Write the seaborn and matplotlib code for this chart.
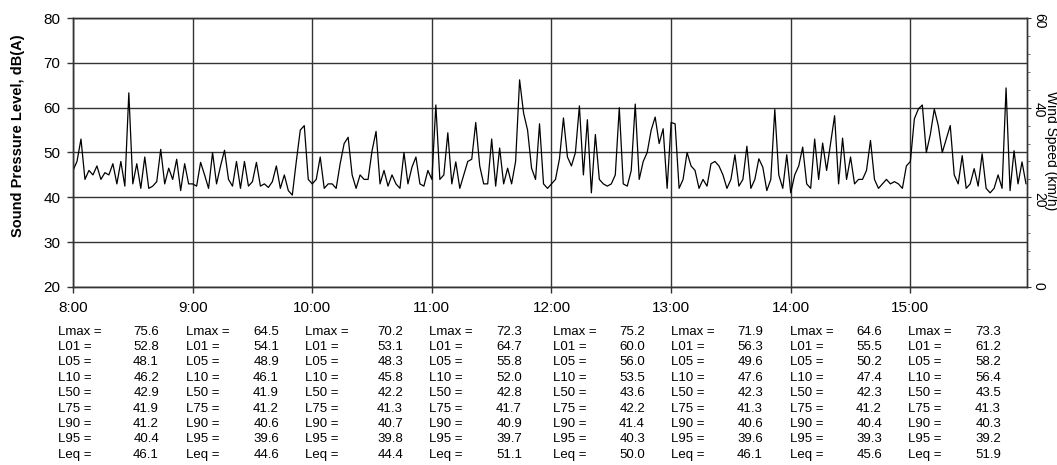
import numpy as np
import pandas as pd
import matplotlib
matplotlib.use('Agg')
import matplotlib.pyplot as plt
from matplotlib.ticker import MultipleLocator
import seaborn as sns

# --- sound level trace, one value every 2 minutes ---
spl_0800 = [46, 48, 53, 44, 46, 45, 47, 44, 45.5, 45, 47.5, 43, 48, 42.5, 63.3,
            43, 47.5, 42, 49, 42, 42.5, 43.5, 50.7, 43, 46.5, 44, 48.5, 41.5, 47.5, 43]
spl_0900 = [43, 42.5, 47.8, 45, 42, 50, 43, 47, 50.5, 44, 42.5, 48, 42, 48, 42.5,
            43.5, 47.8, 42.5, 43, 42.2, 43.5, 47, 42, 45, 41.5, 40.5, 48, 55, 56, 44]
spl_1000 = [43, 44, 49, 42, 43, 43, 42, 47.5, 52, 53.4, 45, 42, 45, 44, 44,
            50.4, 54.7, 43, 46, 42.5, 45, 43, 42, 50, 43, 46.7, 49, 43, 42.5, 46]
spl_1100 = [44, 60.6, 44, 45, 54.4, 43, 47.9, 42, 45, 48, 48.5, 56.7, 47, 43, 43,
            53, 42.5, 51, 43, 46.5, 43, 48, 66.2, 58.8, 55, 46.5, 44, 56.4, 43, 42]
spl_1200 = [43, 44, 48.6, 57.7, 49, 47, 50, 60.4, 45, 57.3, 41, 54, 44, 43, 42.5,
            43, 45, 60, 43, 42.5, 46, 60.8, 44, 48, 50, 55, 57.9, 52, 55.3, 42]
spl_1300 = [56.7, 56.4, 42, 44, 50, 47, 46, 42, 44, 42.5, 47.5, 48, 47, 45, 42,
            44, 49.5, 42.5, 44, 51.4, 42, 44, 48.6, 46.7, 41.5, 44, 59.6, 45, 42, 49.5]
spl_1400 = [41, 45, 47, 51.2, 43, 42, 53, 44, 52.1, 46, 52.1, 58.2, 43, 53.2, 44,
            49, 43, 44, 44, 46, 52.7, 44, 42, 43, 44, 43, 43.5, 43, 42, 47]
spl_1500 = [48, 57.5, 59.7, 60.6, 50, 54, 59.7, 56, 50, 53, 56, 45, 43, 49.3, 42,
            43, 46.4, 42.5, 49.7, 42, 41, 42, 45, 42, 64.4, 41.5, 50.4, 43, 47.9, 43]

hour_ticks = [8, 9, 10, 11, 12, 13, 14, 15]
hour_labels = ['8:00', '9:00', '10:00', '11:00', '12:00', '13:00', '14:00', '15:00']

# --- hourly statistics table ---
stat_names = ['Lmax =', 'L01 =', 'L05 =', 'L10 =', 'L50 =', 'L75 =', 'L90 =', 'L95 =', 'Leq =']
lmax = [75.6, 64.5, 70.2, 72.3, 75.2, 71.9, 64.6, 73.3]
l01 = [52.8, 54.1, 53.1, 64.7, 60.0, 56.3, 55.5, 61.2]
l05 = [48.1, 48.9, 48.3, 55.8, 56.0, 49.6, 50.2, 58.2]
l10 = [46.2, 46.1, 45.8, 52.0, 53.5, 47.6, 47.4, 56.4]
l50 = [42.9, 41.9, 42.2, 42.8, 43.6, 42.3, 42.3, 43.5]
l75 = [41.9, 41.2, 41.3, 41.7, 42.2, 41.3, 41.2, 41.3]
l90 = [41.2, 40.6, 40.7, 40.9, 41.4, 40.6, 40.4, 40.3]
l95 = [40.4, 39.6, 39.8, 39.7, 40.3, 39.6, 39.3, 39.2]
leq = [46.1, 44.6, 44.4, 51.1, 50.0, 46.1, 45.6, 51.9]

W, H = 1057, 465

sns.set_style('white')
plt.rcParams['font.family'] = ['Liberation Sans', 'DejaVu Sans']
plt.rcParams['text.color'] = 'black'
plt.rcParams['axes.labelcolor'] = 'black'
plt.rcParams['xtick.color'] = 'black'
plt.rcParams['ytick.color'] = 'black'

spl = spl_0800 + spl_0900 + spl_1000 + spl_1100 + spl_1200 + spl_1300 + spl_1400 + spl_1500
df = pd.DataFrame({'time': 8 + np.arange(len(spl)) * 2 / 60, 'spl': spl})

fig, ax = plt.subplots(figsize=(W / 100, H / 100), dpi=100)
fig.subplots_adjust(left=73 / W, right=1027 / W, top=1 - 18 / H, bottom=1 - 287 / H)

sns.lineplot(data=df, x='time', y='spl', color='black', lw=0.9, ax=ax, zorder=3)

ax.set_xlim(8, 15.975)
ax.set_ylim(20, 80)
ax.set_xticks(hour_ticks)
ax.set_xticklabels(hour_labels)
ax.set_yticks(range(20, 81, 10))
ax.grid(True, color='#333333', lw=1.0)
ax.tick_params(axis='both', labelsize=11, direction='out', length=4, width=1,
               color='#333', bottom=True, left=True)
ax.tick_params(axis='x', pad=6)
ax.tick_params(axis='y', pad=5)
ax.set_xlabel('')
ax.set_ylabel('Sound Pressure Level, dB(A)', fontsize=10.5, fontweight='bold', va='center')
ax.yaxis.set_label_coords(-0.0577, 0.561)
for s in ax.spines.values():
    s.set_color('#333')
    s.set_linewidth(1)

ax2 = ax.twinx()
ax2.set_ylim(0, 60)
ax2.set_yticks([0, 20, 40, 60])
ax2.yaxis.set_minor_locator(MultipleLocator(4))
ax2.tick_params(axis='y', which='major', labelsize=10, labelrotation=270, length=3,
                direction='out', pad=0.5, color='#333', right=True)
ax2.tick_params(axis='y', which='minor', length=2, direction='out', color='#555', right=True)
ax2.set_ylabel('Wind Speed (km/h)', fontsize=10, rotation=270, va='center')
ax2.yaxis.set_label_coords((1051 - 73) / 954, 0.506)
ax2.grid(False)
for s in ax2.spines.values():
    s.set_color('#333')
    s.set_linewidth(1)

# statistics table under the chart
col_left = [58, 186, 305, 429, 553, 671, 790, 908]
col_right = [159, 279, 403, 522, 645, 763, 882, 1001]
stats = [lmax, l01, l05, l10, l50, l75, l90, l95, leq]
for r, (name, vals) in enumerate(zip(stat_names, stats)):
    yb = 1 - (334.6 + 15.4 * r) / H
    for c in range(len(vals)):
        fig.text(col_left[c] / W, yb, name, fontsize=9.5, ha='left', va='baseline')
        fig.text(col_right[c] / W, yb, f'{vals[c]:.1f}', fontsize=9.5, ha='right', va='baseline')

fig.savefig('out.png', dpi=100)
plt.close()
